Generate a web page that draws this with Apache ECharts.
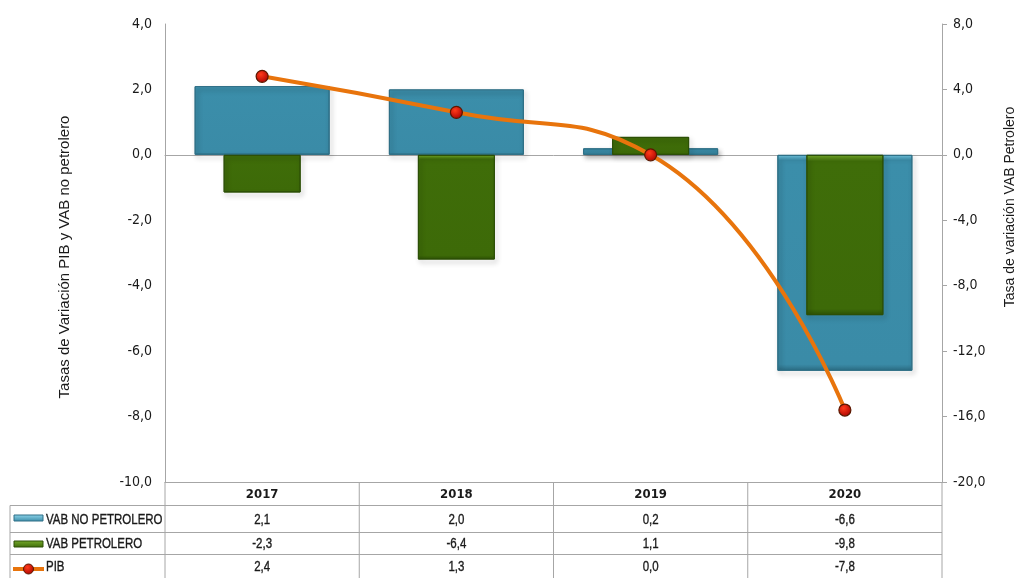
<!DOCTYPE html>
<html><head><meta charset="utf-8">
<script src="https://cdn.jsdelivr.net/npm/echarts@6/dist/echarts.min.js"></script>
<style>html,body{margin:0;padding:0;background:#fff}#c{width:1016px;height:578px}</style>
</head><body><div id="c"></div>
<script>
// ---- data ----
const categories = ['2017', '2018', '2019', '2020'];
const vabNoPetrolero = [2.1, 2.0, 0.2, -6.6];
const vabPetrolero = [-2.3, -6.4, 1.1, -9.8];
const pib = [2.4, 1.3, 0.0, -7.8];
const seriesNames = ['VAB NO PETROLERO', 'VAB PETROLERO', 'PIB'];
const leftTitle = 'Tasas de Variación PIB y VAB no petrolero';
const rightTitle = 'Tasa de variación VAB Petrolero';

// ---- styling ----
const NARROW = "'Liberation Sans Narrow', 'Arial Narrow', 'DejaVu Sans Condensed', sans-serif";
const SANS = "'Liberation Sans', Arial, sans-serif";
const GL = 165, GR = 942, GT = 24, GB = 482, W = 1016, H = 578;
const LINEC = '#a6a6a6';
const TXT = '#1a1a1a';
const fmt = v => Number(v).toFixed(1).replace('.', ',');

const blueFill = new echarts.graphic.LinearGradient(0, 0, 0, 1, [
  {offset: 0, color: '#72c8e2'}, {offset: 0.025, color: '#3b8eaa'},
  {offset: 0.97, color: '#3a8ba7'}, {offset: 1, color: '#2c6c83'}]);
const greenFill = new echarts.graphic.LinearGradient(0, 0, 0, 1, [
  {offset: 0, color: '#76ad2a'}, {offset: 0.04, color: '#3f6d09'},
  {offset: 0.96, color: '#3d6a08'}, {offset: 1, color: '#2d5205'}]);
const dotFill = new echarts.graphic.RadialGradient(0.4, 0.35, 0.7, [
  {offset: 0, color: '#ff3b1a'}, {offset: 1, color: '#a80000'}]);

const chart = echarts.init(document.getElementById('c'), null, {renderer: 'canvas'});

const option = {
  animation: false,
  backgroundColor: '#ffffff',
  grid: {left: GL, right: W - GR, top: GT, bottom: H - GB, containLabel: false, outerBoundsMode: 'none'},
  xAxis: [
    {type: 'category', data: categories, position: 'bottom',
     axisLine: {onZero: false, lineStyle: {color: LINEC, width: 1}},
     axisTick: {show: false},
     axisLabel: {margin: 6, fontFamily: NARROW, fontSize: 13, fontWeight: 'bold', color: TXT}},
    {type: 'category', data: categories, position: 'bottom',
     axisLine: {show: true, onZero: true, onZeroAxisIndex: 0, lineStyle: {color: LINEC, width: 1}},
     axisTick: {show: false}, axisLabel: {show: false}}
  ],
  yAxis: [
    {type: 'value', min: -10, max: 4, interval: 2, position: 'left',
     axisLine: {show: true, lineStyle: {color: LINEC}}, axisTick: {show: false},
     splitLine: {show: false},
     axisLabel: {formatter: fmt, margin: 13, fontFamily: NARROW, fontSize: 14, color: TXT}},
    {type: 'value', min: -20, max: 8, interval: 4, position: 'right',
     axisLine: {show: true, lineStyle: {color: LINEC}},
     axisTick: {show: true, length: 5, lineStyle: {color: LINEC}},
     splitLine: {show: false},
     axisLabel: {formatter: fmt, margin: 11, fontFamily: NARROW, fontSize: 14, color: TXT}}
  ],
  series: [
    {name: seriesNames[0], type: 'bar', xAxisIndex: 0, yAxisIndex: 0, data: vabNoPetrolero,
     barWidth: 135,
     itemStyle: {color: blueFill, borderColor: '#2e6f86', borderWidth: 1,
       shadowBlur: 5, shadowOffsetX: 2, shadowOffsetY: 3, shadowColor: 'rgba(0,0,0,0.3)'}},
    {name: seriesNames[1], type: 'bar', xAxisIndex: 1, yAxisIndex: 1, data: vabPetrolero,
     barWidth: 77,
     itemStyle: {color: greenFill, borderColor: '#2c4f06', borderWidth: 1,
       shadowBlur: 5, shadowOffsetX: 2, shadowOffsetY: 3, shadowColor: 'rgba(0,0,0,0.3)'}},
    {name: seriesNames[2], type: 'line', xAxisIndex: 0, yAxisIndex: 0, data: pib,
     smooth: 0.5, z: 5,
     lineStyle: {color: '#e8740c', width: 4},
     symbol: 'circle', symbolSize: 12,
     itemStyle: {color: dotFill, borderColor: '#5a1800', borderWidth: 1.2}}
  ]
};
chart.setOption(option);

// ---- data table under the plot ----
const rowsY = [482, 505.5, 532.5, 554.5, 578];
const tableLeft = 10;
const SX = 0.82; // narrow (condensed) look for table text
const g = [];
const ln = (x1, y1, x2, y2) => g.push({type: 'line', silent: true,
  shape: {x1, y1, x2, y2}, style: {stroke: LINEC, lineWidth: 1}});
for (let r = 1; r < 4; r++) ln(tableLeft, rowsY[r], GR, rowsY[r]);
ln(tableLeft, rowsY[1], tableLeft, H);
ln(GL, GB, GL, H);
const step = (GR - GL) / categories.length;
for (let i = 1; i <= categories.length; i++) ln(GL + i * step, GB, GL + i * step, H);

const cellText = (text, x, y, align) => g.push({type: 'text', silent: true, x, y, scaleX: SX,
  style: {text, align, verticalAlign: 'middle', font: '14px ' + SANS, fill: TXT,
    stroke: TXT, lineWidth: 0.35}});

const rows = [vabNoPetrolero, vabPetrolero, pib];
rows.forEach((arr, r) => {
  const cy = (rowsY[r + 1] + rowsY[r + 2]) / 2 + 1;
  arr.forEach((v, i) => {
    const cx = chart.convertToPixel({xAxisIndex: 0}, categories[i]);
    cellText(fmt(v), cx, cy, 'center');
  });
  cellText(seriesNames[r], 46, cy, 'left');
});
// legend keys in the table
g.push({type: 'rect', silent: true, shape: {x: 14, y: 515, width: 29, height: 6},
  style: {fill: new echarts.graphic.LinearGradient(0, 0, 0, 1, [{offset: 0, color: '#8fd6ec'}, {offset: 1, color: '#3a8ba7'}]), stroke: '#2e6f86', lineWidth: 1}});
g.push({type: 'rect', silent: true, shape: {x: 14, y: 541, width: 29, height: 6},
  style: {fill: new echarts.graphic.LinearGradient(0, 0, 0, 1, [{offset: 0, color: '#77ab2c'}, {offset: 1, color: '#3d6a08'}]), stroke: '#2c4f06', lineWidth: 1}});
g.push({type: 'line', silent: true, shape: {x1: 13, y1: 569, x2: 44, y2: 569},
  style: {stroke: '#e8740c', lineWidth: 4}});
g.push({type: 'circle', silent: true, shape: {cx: 28.5, cy: 569, r: 5},
  style: {fill: dotFill, stroke: '#5a1800', lineWidth: 1}});

// axis titles
g.push({type: 'text', silent: true, x: 65, y: 257, rotation: Math.PI / 2,
  style: {text: leftTitle, align: 'center', verticalAlign: 'middle', font: '15px ' + SANS, fill: TXT}});
g.push({type: 'text', silent: true, x: 1010, y: 207, rotation: Math.PI / 2,
  style: {text: rightTitle, align: 'center', verticalAlign: 'middle', font: '14px ' + SANS, fill: TXT}});

chart.setOption({graphic: {elements: g}});
</script>
</body></html>
